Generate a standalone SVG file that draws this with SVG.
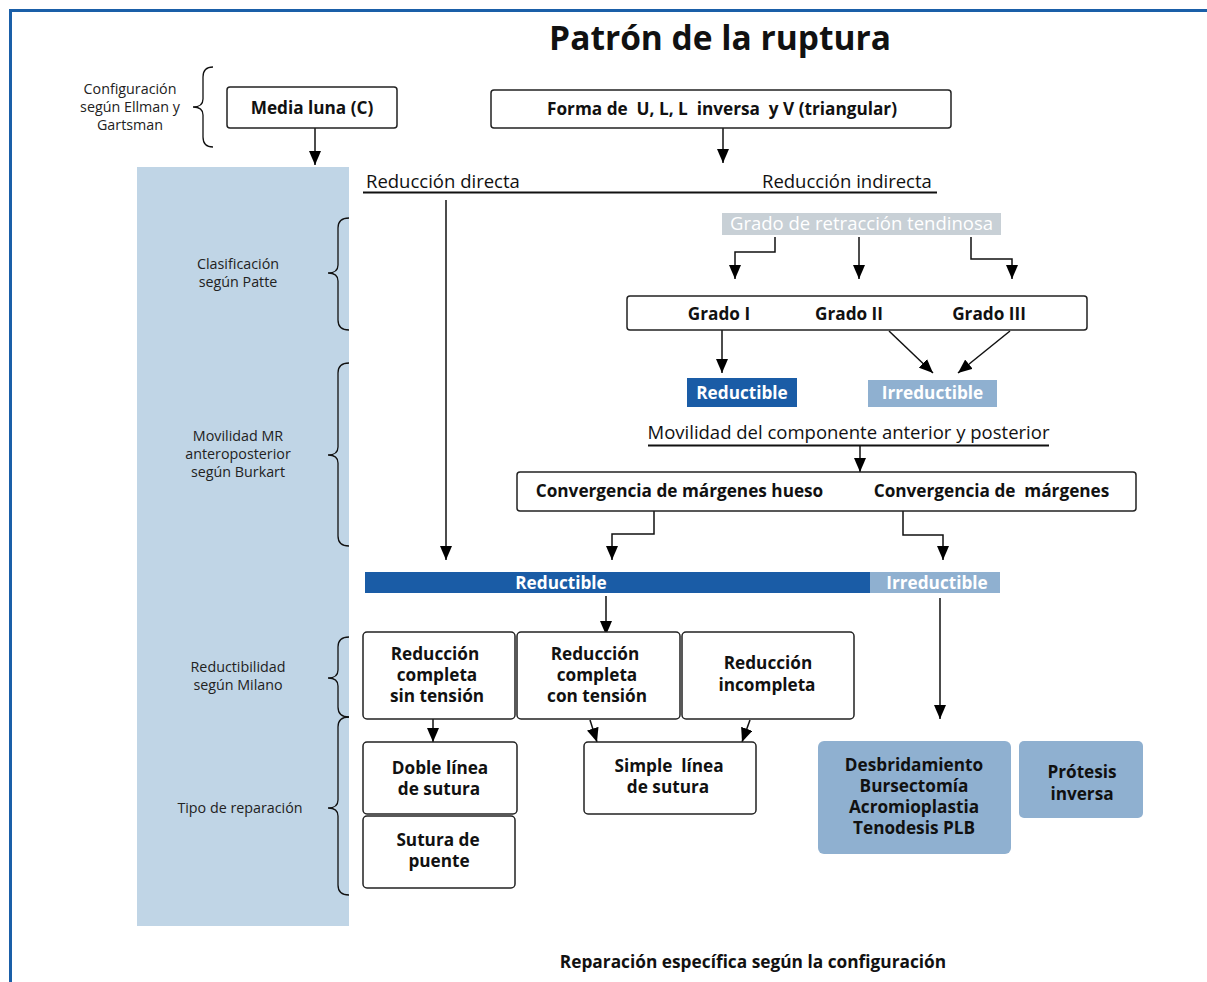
<svg xmlns="http://www.w3.org/2000/svg" width="1207" height="982" viewBox="0 0 1207 982">
<defs>
<style>
text{font-family:"Open Sans","Liberation Sans",Arial,sans-serif;fill:#111}
.b{font-weight:bold;font-size:17.2px;text-anchor:middle}
.r{font-size:18.5px}
.s{font-size:14.3px;text-anchor:middle;fill:#222}
.w{fill:#fff}
.box{fill:#fff;stroke:#222;stroke-width:1.5}
.ln{fill:none;stroke:#111;stroke-width:1.5}
.br{fill:none;stroke:#111;stroke-width:1.3}
.dk{fill:#1a5ca6}
.lt{fill:#8fb0d0}
</style>
<marker id="ah" viewBox="0 0 14 12" refX="14" refY="6" markerWidth="14" markerHeight="12" orient="auto" markerUnits="userSpaceOnUse"><path d="M0,0 L14,6 L0,12 z" fill="#000"/></marker>
</defs>
<rect width="1207" height="982" fill="#fff"/>
<path d="M10.5 982 V10.5 H1207" fill="none" stroke="#1a5fa8" stroke-width="3"/>
<rect x="137" y="167" width="212" height="759" fill="#c0d5e6"/>
<text x="720" y="50" style="font-size:33.5px;font-weight:bold;text-anchor:middle">Patrón de la ruptura</text>

<g id="side-labels">
<text class="s" x="130" y="94">Configuración</text>
<text class="s" x="130" y="112">según Ellman y</text>
<text class="s" x="130" y="130">Gartsman</text>
<path class="br" d="M213,67 Q203,67 203,77 V99 Q203,107 193,107 Q203,107 203,115 V137 Q203,147 213,147"/>
<text class="s" x="238" y="269">Clasificación</text>
<text class="s" x="238" y="287">según Patte</text>
<path class="br" d="M349,218 Q338,218 338,228 V265 Q338,273 328,273 Q338,273 338,281 V320 Q338,330 349,330"/>
<text class="s" x="238" y="441">Movilidad MR</text>
<text class="s" x="238" y="459">anteroposterior</text>
<text class="s" x="238" y="477">según Burkart</text>
<path class="br" d="M349,363 Q338,363 338,373 V447 Q338,455 328,455 Q338,455 338,463 V536 Q338,546 349,546"/>
<text class="s" x="238" y="672">Reductibilidad</text>
<text class="s" x="238" y="690">según Milano</text>
<path class="br" d="M349,637 Q338,637 338,647 V670 Q338,678 328,678 Q338,678 338,686 V707 Q338,717 349,717"/>
<text class="s" x="240" y="813">Tipo de reparación</text>
<path class="br" d="M349,717 Q338,717 338,727 V800 Q338,808 328,808 Q338,808 338,816 V885 Q338,895 349,895"/>
</g>

<g id="connectors">
<path class="ln" d="M315,128 V165" marker-end="url(#ah)"/>
<path class="ln" d="M723,128 V163" marker-end="url(#ah)"/>
<path d="M363,192.5 H937" stroke="#111" stroke-width="2"/>
<path class="ln" d="M446,200 V560" marker-end="url(#ah)"/>
<path class="ln" d="M775,237 V252 H735 V279" marker-end="url(#ah)"/>
<path class="ln" d="M859,237 V279" marker-end="url(#ah)"/>
<path class="ln" d="M971,237 V259 H1012 V279" marker-end="url(#ah)"/>
<path class="ln" d="M722,330 V373" marker-end="url(#ah)"/>
<path class="ln" d="M889,331 L933,373" marker-end="url(#ah)"/>
<path class="ln" d="M1010,331 L958,373" marker-end="url(#ah)"/>
<path d="M648,445.5 H1049" stroke="#111" stroke-width="2"/>
<path class="ln" d="M860,446 V472" marker-end="url(#ah)"/>
<path class="ln" d="M654,511 V534 H612 V560" marker-end="url(#ah)"/>
<path class="ln" d="M903,511 V535 H943 V560" marker-end="url(#ah)"/>
<path class="ln" d="M606,596 V635" marker-end="url(#ah)"/>
<path class="ln" d="M940,598 V719" marker-end="url(#ah)"/>
<path class="ln" d="M433,719 V742" marker-end="url(#ah)"/>
<path class="ln" d="M590,720 L597,742" marker-end="url(#ah)"/>
<path class="ln" d="M750,720 L742,742" marker-end="url(#ah)"/>
</g>

<g id="media-luna"><rect class="box" x="227" y="87" width="170" height="41" rx="3"/><text class="b" x="312" y="114">Media luna (C)</text></g>
<g id="forma"><rect class="box" x="491" y="90" width="460" height="38" rx="3"/><text class="b" x="722" y="115" xml:space="preserve">Forma de  U, L, L  inversa  y V (triangular)</text></g>
<g id="red-directa"><text class="r" x="366" y="188">Reducción directa</text></g>
<g id="red-indirecta"><text class="r" x="762" y="188">Reducción indirecta</text></g>
<g id="grado-retraccion"><rect x="722" y="213" width="279" height="22" fill="#c8d0d6"/><text class="r w" x="861.5" y="230" style="text-anchor:middle">Grado de retracción tendinosa</text></g>
<g id="grados"><rect class="box" x="627" y="296" width="460" height="34" rx="3"/>
<text class="b" x="719" y="320">Grado I</text><text class="b" x="849" y="320">Grado II</text><text class="b" x="989" y="320">Grado III</text></g>
<g id="reductible-1"><rect class="dk" x="687" y="378" width="110" height="29"/><text class="b w" x="742" y="399">Reductible</text></g>
<g id="irreductible-1"><rect class="lt" x="868" y="380" width="129" height="27"/><text class="b w" x="932.5" y="399">Irreductible</text></g>
<g id="movilidad"><text class="r" x="848.5" y="439" style="text-anchor:middle">Movilidad del componente anterior y posterior</text></g>
<g id="convergencia"><rect class="box" x="517" y="472" width="619" height="39" rx="3"/>
<text class="b" x="679.5" y="497">Convergencia de márgenes hueso</text><text class="b" x="991.5" y="497" xml:space="preserve">Convergencia de  márgenes</text></g>
<g id="reductible-bar"><rect class="dk" x="365" y="572" width="505" height="21"/><text class="b w" x="561" y="589">Reductible</text></g>
<g id="irreductible-bar"><rect class="lt" x="870" y="572" width="130" height="21"/><text class="b w" x="937" y="589">Irreductible</text></g>
<g id="sin-tension"><rect class="box" x="363" y="632" width="152" height="87" rx="4"/>
<text class="b" x="435" y="660">Reducción</text><text class="b" x="437" y="681">completa</text><text class="b" x="437" y="702">sin tensión</text></g>
<g id="con-tension"><rect class="box" x="517" y="632" width="163" height="87" rx="4"/>
<text class="b" x="595" y="660">Reducción</text><text class="b" x="597" y="681">completa</text><text class="b" x="597" y="702">con tensión</text></g>
<g id="incompleta"><rect class="box" x="682" y="632" width="172" height="87" rx="4"/>
<text class="b" x="768" y="669">Reducción</text><text class="b" x="767" y="691">incompleta</text></g>
<g id="doble"><rect class="box" x="363" y="742" width="154" height="72" rx="4"/>
<text class="b" x="440" y="774">Doble línea</text><text class="b" x="439" y="795">de sutura</text></g>
<g id="puente"><rect class="box" x="363" y="816" width="152" height="72" rx="4"/>
<text class="b" x="438" y="846">Sutura de</text><text class="b" x="439" y="867">puente</text></g>
<g id="simple"><rect class="box" x="584" y="742" width="172" height="72" rx="4"/>
<text class="b" x="669" y="772" xml:space="preserve">Simple  línea</text><text class="b" x="668" y="793">de sutura</text></g>
<g id="desbridamiento"><rect class="lt" x="818" y="741" width="193" height="113" rx="6"/>
<text class="b" x="914" y="771">Desbridamiento</text><text class="b" x="914" y="792">Bursectomía</text><text class="b" x="914" y="813">Acromioplastia</text><text class="b" x="914" y="834">Tenodesis PLB</text></g>
<g id="protesis"><rect class="lt" x="1019" y="741" width="124" height="77" rx="5"/>
<text class="b" x="1082" y="778">Prótesis</text><text class="b" x="1082" y="800">inversa</text></g>
<text x="753" y="968" style="font-size:17.3px;font-weight:bold;text-anchor:middle">Reparación específica según la configuración</text>
</svg>
